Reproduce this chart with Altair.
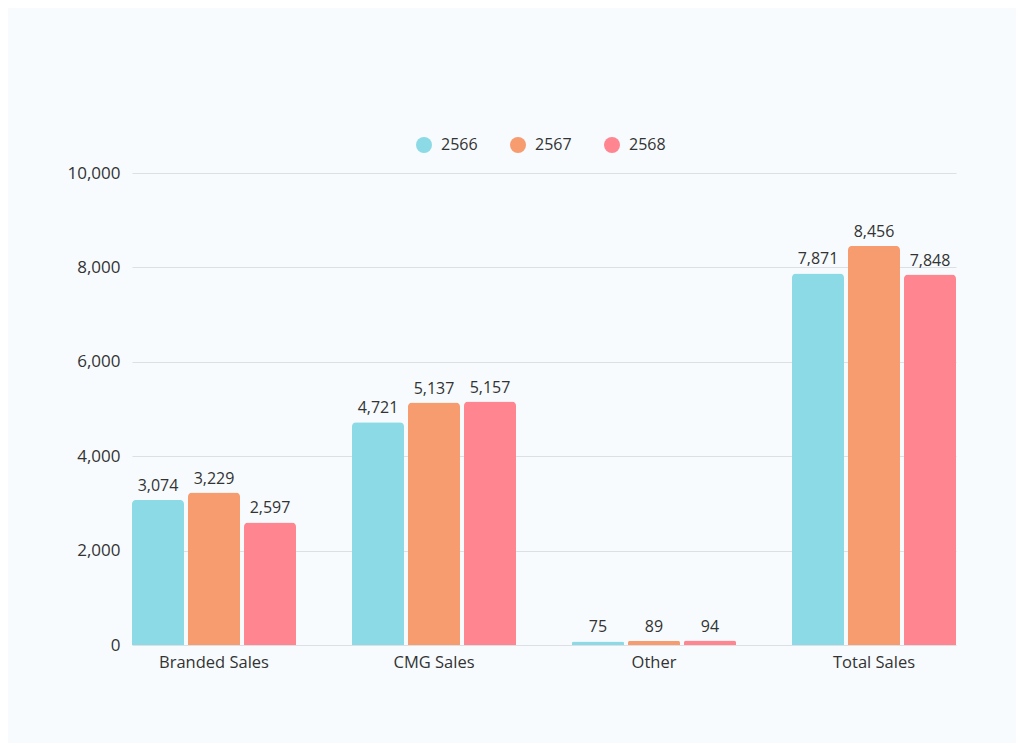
import altair as alt
import pandas as pd

categories = ["Branded Sales", "CMG Sales", "Other", "Total Sales"]
years = ["2566", "2567", "2568"]
v2566 = [3074, 4721, 75, 7871]
v2567 = [3229, 5137, 89, 8456]
v2568 = [2597, 5157, 94, 7848]
colors = ["#8BDAE6", "#F69C6F", "#FF8591"]

rows = []
for yr, vals in zip(years, [v2566, v2567, v2568]):
    for c, v in zip(categories, vals):
        rows.append({"category": c, "year": yr, "value": v})
df = pd.DataFrame(rows)

FONT = "Open Sans"
TXT = "#333333"
FS = 16
AFS = 17

x = alt.X("category:N", sort=categories, title=None,
          scale=alt.Scale(paddingInner=0.2545, paddingOuter=0),
          axis=alt.Axis(labelAngle=0, labelFontSize=AFS - 0.5, labelColor=TXT, labelFont=FONT,
                        ticks=False, domain=False, labelPadding=9))
xo = alt.XOffset("year:N", sort=years, scale=alt.Scale(paddingInner=0.0714, paddingOuter=0))
y = alt.Y("value:Q", title=None,
          scale=alt.Scale(domain=[0, 10000]),
          axis=alt.Axis(values=[0, 2000, 4000, 6000, 8000, 10000], format=",.0f",
                        labelFontSize=AFS, labelColor=TXT, labelFont=FONT,
                        ticks=False, domain=False, labelPadding=12,
                        gridColor="#DCDFE3", gridWidth=1))
color = alt.Color("year:N", sort=years,
                  scale=alt.Scale(domain=years, range=colors),
                  legend=alt.Legend(title=None, orient="none", direction="horizontal",
                                    legendX=284, legendY=-36,
                                    symbolType="circle", symbolSize=256,
                                    symbolStrokeWidth=0, symbolOpacity=1,
                                    labelFontSize=FS, labelColor=TXT, labelFont=FONT,
                                    labelOffset=9, columnPadding=32))

base = alt.Chart(df)
bars = base.mark_bar(cornerRadiusTopLeft=4, cornerRadiusTopRight=4).encode(
    x=x, xOffset=xo, y=y, color=color)
labels = base.mark_text(baseline="bottom", dy=-6, fontSize=FS, font=FONT, color=TXT).encode(
    x=x, xOffset=xo, y=y, text=alt.Text("value:Q", format=",.0f"))

chart = alt.layer(bars, labels).properties(
    width=824, height=472,
    background="#F7FBFE",
    autosize=alt.AutoSizeParams(type="none"),
    padding={"left": 124, "top": 165, "right": 60, "bottom": 98},
).configure_view(stroke=None)

chart.save("out.html", embed_options={"renderer": "svg", "actions": False})
